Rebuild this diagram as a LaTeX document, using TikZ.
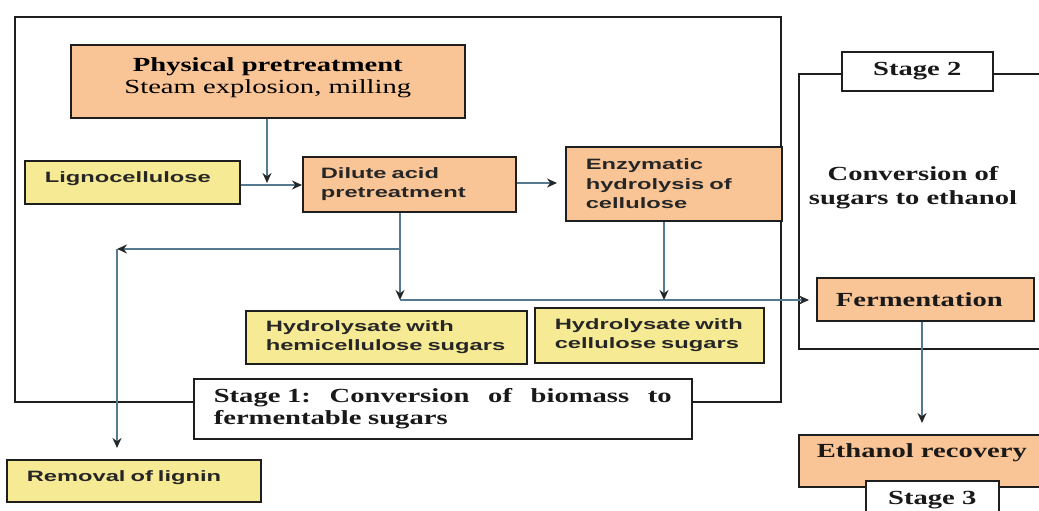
\documentclass[tikz,border=0pt]{standalone}
\usepackage{fontspec}
\setmainfont{Liberation Serif}
\newfontfamily\serifw[FakeStretch=1.43]{Liberation Serif}
\newfontfamily\sansw[FakeStretch=1.58]{Liberation Sans}
\usetikzlibrary{arrows.meta}
\definecolor{orangefill}{HTML}{FAC596}
\definecolor{yellowfill}{HTML}{F7EA94}
\definecolor{conn}{HTML}{55798F}
\definecolor{edge}{HTML}{1E1E1E}
\newcommand{\up}[2]{\raisebox{#1}[\height][\depth]{#2}}
\tikzset{
  box/.style={draw=edge, line width=1.6pt, inner sep=0pt, anchor=north west},
  obox/.style={box, fill=orangefill},
  ybox/.style={box, fill=yellowfill},
  wbox/.style={box, fill=white},
  stxt/.style={font=\sansw\bfseries\fontsize{15}{19.5}\selectfont, align=left, text=black!85},
  rtxt/.style={font=\serifw\bfseries\fontsize{20}{24}\selectfont, align=center, text=black!90},
  arr/.style={draw=conn, line width=1.5pt, -{Stealth[length=10pt,width=9pt,color=edge!90!conn]}},
  plain/.style={draw=conn, line width=1.5pt},
}
\begin{document}
\begin{tikzpicture}[x=1pt,y=-1pt]
\useasboundingbox (0,0) rectangle (1039,511);
\clip (0,0) rectangle (1039,511);

% Stage frames
\node[box, minimum width=766, minimum height=385] (s1) at (14,16) {};
\node[box, minimum width=250, minimum height=275] (s2) at (798,73) {};

% Stage 1 boxes
\node[obox, minimum width=394, minimum height=73, font=\serifw\fontsize{20}{22}\selectfont] (phys) at (70,44)
  {\up{3pt}{\begin{tabular}{@{}c@{}}\bfseries Physical pretreatment\\Steam explosion, milling\end{tabular}}};
\node[ybox, stxt, minimum width=215, minimum height=43, text width=175, inner xsep=20] (ligno) at (24,160)
  {\up{4pt}{\mbox{Lignocellulose}}};
\node[obox, stxt, minimum width=195, minimum height=55, text width=177, inner xsep=18] (dil) at (302,156)
  {\mbox{Dilute acid}\\\mbox{pretreatment}};
\node[obox, stxt, minimum width=196, minimum height=74, text width=176, inner xsep=20] (enz) at (565,146)
  {\mbox{Enzymatic}\\\mbox{hydrolysis of}\\\mbox{cellulose}};
\node[ybox, stxt, minimum width=281, minimum height=53, text width=241, inner xsep=20] (hemi) at (245,310)
  {\mbox{Hydrolysate with}\\\mbox{hemicellulose sugars}};
\node[ybox, stxt, minimum width=229, minimum height=55, text width=189, inner xsep=20] (cell) at (534,307)
  {\mbox{Hydrolysate with}\\\mbox{cellulose sugars}};
\node[ybox, stxt, minimum width=254, minimum height=42, text width=214, inner xsep=19] (rem) at (6,459)
  {\up{3pt}{\mbox{Removal of lignin}}};
\node[wbox, minimum width=498, minimum height=60, text width=458, inner xsep=20, align=left,
      font=\serifw\bfseries\fontsize{20}{22}\selectfont, text=black!90] (s1lab) at (193,378)
  {Stage~1:\hfill Conversion\hfill of\hfill biomass\hfill to\\fermentable sugars};

% Stage 2 / 3
\node[wbox, rtxt, minimum width=151, minimum height=39] (s2lab) at (841,51) {Stage 2};
\node[rtxt] (conv) at (913,188) {Conversion of\\sugars to ethanol};
\node[obox, rtxt, minimum width=217, minimum height=43] (ferm) at (816,277) {\hspace*{-12pt}Fermentation};
\node[obox, rtxt, minimum width=246, minimum height=52] (eth) at (798,434) {\up{8pt}{Ethanol recovery}};
\node[wbox, rtxt, minimum width=133, minimum height=38] (s3lab) at (865,480) {Stage 3};

% helper coordinates
\coordinate (pin) at (267,183);
\coordinate (dj) at (400,249);
\coordinate (lg) at (117,249);
\coordinate (hj) at (400,300);
\coordinate (ej) at (664,300);

% connectors
\draw[arr] (phys.south -| pin) -- (pin);
\draw[arr] (ligno.east |- 0,185) -- (dil.west |- 0,185);
\draw[arr] (dil.east |- 0,183) -- ([xshift=-8pt]enz.west |- 0,183);
\draw[plain] (dil.south -| dj) -- (dj);
\draw[arr] (dj) -- (hj);
\draw[arr] (dj) -- (lg);
\draw[arr] (lg) -- ([yshift=11pt]rem.north -| lg);
\draw[arr] (enz.south -| ej) -- (ej);
\draw[arr] (hj) -- ([xshift=-7pt]ferm.west |- hj);
\draw[arr] (ferm.south -| 922,0) -- ([yshift=11pt]eth.north -| 922,0);
\end{tikzpicture}
\end{document}
